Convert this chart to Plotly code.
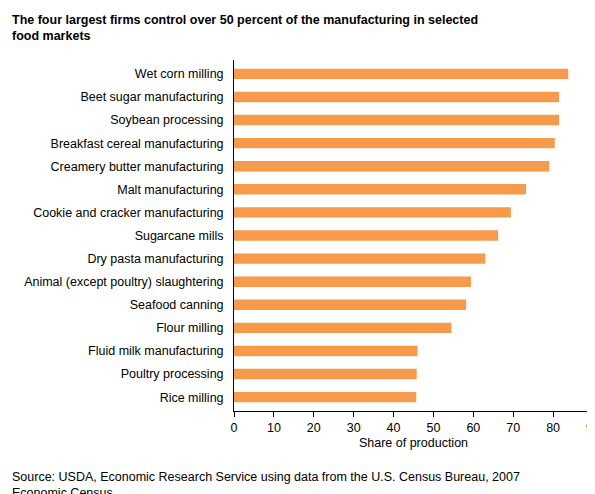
import plotly.graph_objects as go

categories = ["Wet corn milling", "Beet sugar manufacturing", "Soybean processing",
              "Breakfast cereal manufacturing", "Creamery butter manufacturing",
              "Malt manufacturing", "Cookie and cracker manufacturing", "Sugarcane mills",
              "Dry pasta manufacturing", "Animal (except poultry) slaughtering",
              "Seafood canning", "Flour milling", "Fluid milk manufacturing",
              "Poultry processing", "Rice milling"]
values = [83.8, 81.5, 81.5, 80.4, 79.0, 73.2, 69.4, 66.2, 63.0, 59.4, 58.2, 54.5, 46.0, 45.8, 45.7]
xticks = [0, 10, 20, 30, 40, 50, 60, 70, 80, 90]

fig = go.Figure(go.Bar(
    x=values, y=categories, orientation="h",
    marker=dict(color="#F79A4B", line=dict(width=0)), width=0.45,
))
fig.update_layout(
    width=595, height=494,
    paper_bgcolor="white", plot_bgcolor="white",
    font=dict(family="Liberation Sans, Arial", size=12.5, color="black"),
    margin=dict(l=226, r=10, t=52, b=91, autoexpand=False),
    showlegend=False,
)
fig.update_xaxes(range=[0, 90], tickvals=xticks, showgrid=False, zeroline=False,
                 showline=True, linecolor="black", linewidth=1, ticks="outside",
                 ticklen=5, tickcolor="black", automargin=False,
                 title=dict(text="Share of production", font=dict(size=12.5), standoff=4))
fig.update_yaxes(categoryorder="array", categoryarray=categories[::-1],
                 showline=True, linecolor="black", linewidth=1, ticks="",
                 showgrid=False, ticksuffix="  ", range=[-0.6, 14.6], automargin=False)
fig.add_annotation(text="<b>The four largest firms control over 50 percent of the manufacturing in selected<br>food markets</b>",
                   xref="paper", yref="paper", x=-224/359, y=1, yshift=49, xanchor="left", yanchor="top",
                   align="left", showarrow=False, font=dict(size=12.5))
fig.add_annotation(text="Source: USDA, Economic Research Service using data from the U.S. Census Bureau, 2007<br>Economic Census.",
                   xref="paper", yref="paper", x=-224/359, y=0, yshift=-57, xanchor="left", yanchor="top",
                   align="left", showarrow=False, font=dict(size=12.5))
fig.write_html("out.html")
